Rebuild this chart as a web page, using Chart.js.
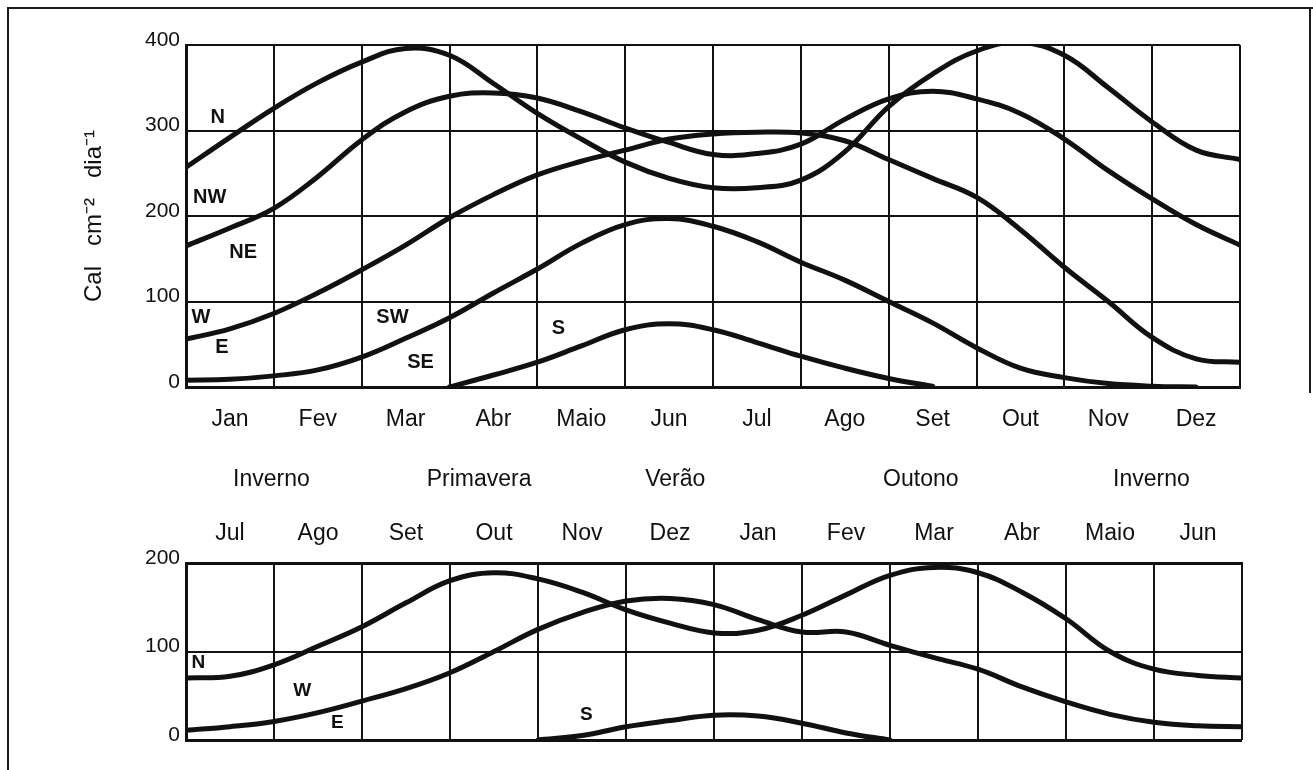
<!DOCTYPE html>
<html><head><meta charset="utf-8">
<script src="https://cdn.jsdelivr.net/npm/chart.js@4.4.1/dist/chart.umd.min.js"></script>
<style>
html,body{margin:0;padding:0;background:#fff;}
#wrap{position:relative;width:1313px;height:770px;overflow:hidden;background:#fff;}
#frame{position:absolute;left:7px;top:7px;width:1330px;height:790px;border-left:2px solid #1a1a1a;border-top:2px solid #1a1a1a;}
#rline{position:absolute;left:1309px;top:8px;width:2px;height:385px;background:#1a1a1a;}
#c1{position:absolute;left:0;top:0;}
#c2{position:absolute;left:0;top:450px;}
</style></head><body>
<div id="wrap"><div id="frame"></div><div id="rline"></div>
<canvas id="c1" width="1313" height="450"></canvas>
<canvas id="c2" width="1313" height="320"></canvas></div>
<script>
// ---------- data ----------
const monthPos = [0,0.5,1,1.5,2,2.5,3,3.5,4,4.5,5,5.5,6,6.5,7,7.5,8,8.5,9,9.5,10,10.5,11,11.5,12];
const topMonths = ['Jan','Fev','Mar','Abr','Maio','Jun','Jul','Ago','Set','Out','Nov','Dez'];
const bottomMonths = ['Jul','Ago','Set','Out','Nov','Dez','Jan','Fev','Mar','Abr','Maio','Jun'];
const seasons = ['Inverno','Primavera','Verão','Outono','Inverno'];
const seasonPos = [0.97,3.33,5.56,8.35,10.97];
const topTicks = [0,100,200,300,400];
const bottomTicks = [0,100,200];

// upper panel (Cal cm-2 dia-1)
const topN  = [257,292,326,356,380,396,388,355,320,290,263,244,233,233,242,275,328,366,393,403,388,350,310,277,266];
const topNE = [165,186,209,246,289,322,340,344,338,322,303,286,272,273,284,313,337,346,337,320,290,253,220,190,166];
const topW  = [56,68,86,110,137,166,198,225,248,264,277,290,296,298,297,288,266,244,222,184,140,100,58,33,29];
const topSE = [8,9,13,20,35,57,81,110,138,168,190,197,188,170,146,125,100,75,46,22,11,4,1,0,null];
const topS  = [null,null,null,null,null,null,0,14,29,48,67,74,67,52,36,22,10,1,null,null,null,null,null,null,null];

// lower panel
const botN = [70,72,85,106,128,155,180,189,182,167,147,132,121,124,141,164,186,195,189,167,137,100,80,73,70];
const botW = [11,15,21,31,44,58,76,100,125,144,157,160,153,136,122,122,107,93,80,60,43,29,20,16,15];
const botS = [null,null,null,null,null,null,null,null,0,5,15,22,28,27,19,8,0,null,null,null,null,null,null,null,null];

// curve labels: text, month position, value position
const topLabelText = ['N','NW','NE','W','E','SW','SE','S'];
const topLabelX = [0.36,0.27,0.65,0.17,0.41,2.35,2.67,4.24];
const topLabelY = [315,222,157,81,46,81,29,69];
const botLabelText = ['N','W','E','S'];
const botLabelX = [0.14,1.32,1.72,4.55];
const botLabelY = [87,56,19,28];

// ---------- drawing ----------
const INK = '#111';
Chart.defaults.font.family = '"Liberation Sans", Arial, sans-serif';
Chart.defaults.color = INK;

const curveLabels = {
  id: 'curveLabels',
  afterDatasetsDraw(chart, args, opts) {
    const {ctx, scales} = chart;
    const x = scales.x, y = scales.y;
    ctx.save();
    ctx.font = 'bold ' + opts.size + 'px "Liberation Sans", Arial, sans-serif';
    ctx.fillStyle = INK; ctx.textAlign = 'center'; ctx.textBaseline = 'middle';
    opts.text.forEach((t, i) => ctx.fillText(t, x.getPixelForValue(opts.xs[i]), y.getPixelForValue(opts.ys[i])));
    ctx.restore();
  }
};

function ds(arr) {
  return {
    data: monthPos.map((m, i) => ({x: m, y: arr[i]})),
    borderColor: INK, borderWidth: 5, pointRadius: 0, tension: 0.4,
    borderCapStyle: 'round', borderJoinStyle: 'round', spanGaps: false, fill: false
  };
}
const gridColor = ctx => (ctx.tick && Number.isInteger(ctx.tick.value)) ? INK : 'rgba(0,0,0,0)';

new Chart(document.getElementById('c1'), {
  type: 'line',
  data: { datasets: [ds(topN), ds(topNE), ds(topW), ds(topSE), ds(topS)] },
  plugins: [curveLabels],
  options: {
    responsive: false, animation: false,
    layout: { padding: { top: 45, right: 73, left: 0, bottom: 0 } },
    plugins: { legend: {display: false}, tooltip: {enabled: false},
      curveLabels: { text: topLabelText, xs: topLabelX, ys: topLabelY, size: 20 } },
    scales: {
      x: { type: 'linear', min: 0, max: 12, position: 'bottom',
        afterBuildTicks: s => { s.ticks = monthPos.map(v => ({value: v})); },
        afterFit: s => { s.height = 63; },
        ticks: { autoSkip: false, maxRotation: 0, padding: 19, font: {size: 23},
          callback: v => (v % 1 === 0.5) ? topMonths[Math.floor(v)] : '' },
        grid: { drawTicks: false, lineWidth: 2, color: gridColor },
        border: { display: true, width: 3, color: INK } },
      y: { min: 0, max: 400,
        afterBuildTicks: s => { s.ticks = topTicks.map(v => ({value: v})); },
        afterFit: s => { s.width = 186; },
        ticks: { padding: 6, labelOffset: -5, font: {size: 21} },
        grid: { drawTicks: false, lineWidth: 2, color: INK },
        border: { width: 3, color: INK },
        title: { display: true, text: 'Cal   cm⁻²   dia⁻¹', font: {size: 24}, padding: {top: 80, bottom: 0} } }
    }
  }
});

new Chart(document.getElementById('c2'), {
  type: 'line',
  data: { datasets: [ds(botN), ds(botW), ds(botS)] },
  plugins: [curveLabels],
  options: {
    responsive: false, animation: false,
    layout: { padding: { top: 0, right: 71, left: 0, bottom: 30 } },
    plugins: { legend: {display: false}, tooltip: {enabled: false},
      curveLabels: { text: botLabelText, xs: botLabelX, ys: botLabelY, size: 19 } },
    scales: {
      x: { type: 'linear', min: 0, max: 12, position: 'top', weight: 0,
        afterBuildTicks: s => { s.ticks = monthPos.map(v => ({value: v})); },
        afterFit: s => { s.height = 60; },
        ticks: { autoSkip: false, maxRotation: 0, padding: 16, font: {size: 23},
          callback: v => (v % 1 === 0.5) ? bottomMonths[Math.floor(v)] : '' },
        grid: { drawTicks: false, lineWidth: 2, color: gridColor },
        border: { display: true, width: 3, color: INK } },
      xs: { type: 'linear', min: 0, max: 12, position: 'top', weight: 1,
        afterBuildTicks: s => { s.ticks = seasonPos.map(v => ({value: v})); },
        afterFit: s => { s.height = 53; },
        ticks: { autoSkip: false, maxRotation: 0, padding: 10, font: {size: 23},
          callback: (v, i) => seasons[i] },
        grid: { display: false, drawTicks: false },
        border: { display: false } },
      y: { min: 0, max: 200,
        afterBuildTicks: s => { s.ticks = bottomTicks.map(v => ({value: v})); },
        afterFit: s => { s.width = 186; },
        ticks: { padding: 6, labelOffset: -5, font: {size: 21} },
        grid: { drawTicks: false, lineWidth: ctx => (ctx.tick && ctx.tick.value === 0) ? 3 : 2, color: INK },
        border: { width: 3, color: INK } }
    }
  }
});
</script>
</body></html>
